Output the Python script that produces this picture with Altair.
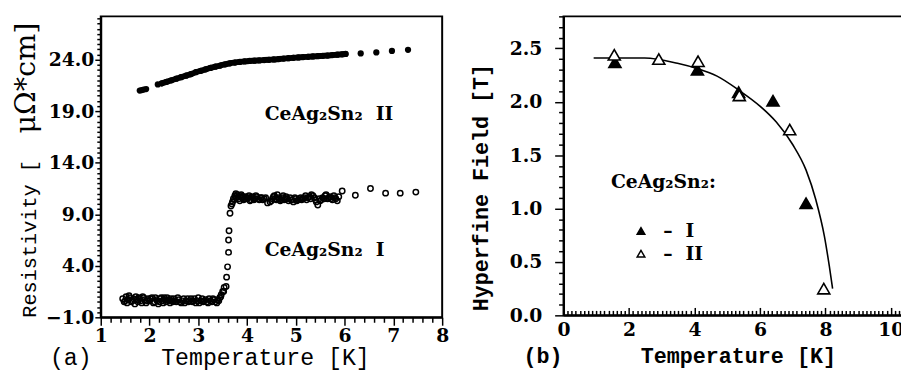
import altair as alt
import pandas as pd

NB = "\u00a0"

# ---------------- panel (a): resistivity vs temperature ----------------
# sample I (open circles)
t_sample_I = [1.45, 1.48, 1.5, 1.52, 1.54, 1.56, 1.58, 1.6, 1.63, 1.65, 1.67, 1.7, 1.72, 1.74,
              1.76, 1.78, 1.8, 1.82, 1.84, 1.86, 1.88, 1.9, 1.93, 1.95, 1.97, 2.0, 2.02, 2.05,
              2.08, 2.1, 2.12, 2.14, 2.16, 2.18, 2.2, 2.22, 2.24, 2.26, 2.28, 2.3, 2.32, 2.34,
              2.36, 2.38, 2.4, 2.42, 2.44, 2.46, 2.48, 2.5, 2.52, 2.55, 2.58, 2.6, 2.62, 2.65,
              2.68, 2.7, 2.72, 2.75, 2.78, 2.8, 2.82, 2.85, 2.88, 2.9, 2.92, 2.95, 2.98, 3.0,
              3.02, 3.05, 3.08, 3.1, 3.12, 3.15, 3.18, 3.2, 3.22, 3.25, 3.28, 3.3, 3.32, 3.35,
              3.38, 3.4, 3.42, 3.44, 3.46, 3.47, 3.5, 3.52, 3.53,
              3.57, 3.58, 3.6, 3.62, 3.62, 3.63, 3.65,
              3.67, 3.69, 3.7, 3.72, 3.74, 3.75, 3.77, 3.78, 3.8, 3.82, 3.83, 3.85, 3.86, 3.88,
              3.9, 3.92, 3.93, 3.95, 3.97, 4.0, 4.02, 4.04, 4.06, 4.08, 4.1, 4.12, 4.14, 4.16,
              4.18, 4.2, 4.22, 4.25, 4.28, 4.3, 4.32, 4.35, 4.38, 4.42, 4.47, 4.5, 4.52, 4.54,
              4.56, 4.58, 4.6, 4.62, 4.64, 4.66, 4.68, 4.7, 4.72, 4.74, 4.76, 4.78, 4.8, 4.82,
              4.85, 4.88, 4.9, 4.92, 4.95, 4.98, 5.0, 5.02, 5.05, 5.08, 5.1, 5.12, 5.15, 5.18,
              5.2, 5.22, 5.25, 5.28, 5.3, 5.32, 5.35, 5.38, 5.4, 5.42, 5.45, 5.48, 5.5, 5.52,
              5.55, 5.58, 5.6, 5.62, 5.65, 5.68, 5.7, 5.72, 5.75, 5.78, 5.8, 5.82, 5.85, 5.88,
              5.95, 6.22, 6.53, 6.84, 7.14, 7.46]
rho_sample_I = [0.8, 0.5, 0.6, 1.0, 0.4, 0.7, 1.1, 0.9, 0.5, 0.6, 0.8, 0.3, 1.0, 0.7,
                0.5, 0.9, 0.8, 0.6, 0.4, 1.0, 0.9, 0.7, 0.4, 0.6, 0.8, 0.6, 0.8, 0.9,
                0.4, 0.5, 0.9, 0.7, 0.6, 0.3, 0.5, 0.8, 0.9, 0.6, 0.4, 0.9, 0.7, 0.5,
                0.9, 0.7, 0.6, 0.4, 0.8, 0.6, 0.5, 0.8, 0.6, 0.5, 0.9, 0.7, 0.5, 0.4,
                0.6, 0.8, 0.4, 0.6, 0.8, 0.5, 0.6, 0.8, 0.5, 0.6, 0.8, 0.4, 0.6, 0.9,
                0.4, 0.6, 0.8, 0.5, 0.6, 0.7, 0.5, 0.4, 0.8, 0.6, 0.5, 0.8, 0.7, 0.5,
                0.4, 0.7, 0.6, 0.9, 1.0, 1.2, 1.5, 1.5, 1.9,
                2.0, 2.9, 3.9, 5.3, 6.5, 7.4, 9.1,
                9.8, 10.0, 10.2, 10.5, 10.4, 10.8, 11.0, 10.6, 10.9, 10.7, 10.5, 10.3, 10.8, 10.9,
                10.6, 10.7, 10.4, 10.5, 10.7, 10.5, 10.6, 10.8, 10.3, 10.4, 10.7, 10.6, 10.4, 10.5,
                10.8, 10.7, 10.5, 10.4, 10.6, 10.6, 10.4, 10.5, 10.6, 10.1, 10.2, 10.3, 10.5, 10.7,
                10.8, 10.5, 10.4, 10.9, 10.6, 10.5, 10.3, 10.4, 10.6, 10.8, 10.4, 10.5, 10.7, 10.5,
                10.3, 10.6, 10.4, 10.4, 10.2, 10.6, 10.5, 10.3, 10.4, 10.5, 10.6, 10.4, 10.5, 10.6,
                10.8, 10.4, 10.6, 10.7, 10.5, 10.9, 10.8, 10.6, 10.4, 10.2, 9.9, 10.5, 10.3, 10.4,
                10.6, 10.5, 10.8, 10.9, 10.5, 10.6, 10.7, 10.5, 10.4, 10.8, 10.6, 10.5, 10.3, 10.7,
                11.25, 10.85, 11.5, 11.05, 11.05, 11.15]

# sample II (filled dots): start cluster, dense band, sparse tail
t_II_start = [1.8, 1.84, 1.88, 1.93, 2.17]
rho_II_start = [21.0, 21.05, 21.1, 21.15, 21.6]
t_II_band = [2.25, 2.35, 2.45, 2.55, 2.65, 2.75, 2.85, 2.95, 3.05, 3.15, 3.25, 3.35, 3.45,
             3.55, 3.65, 3.75, 3.85, 3.95, 4.05, 4.15, 4.25, 4.35, 4.45, 4.55, 4.65, 4.75,
             4.85, 4.95, 5.05, 5.15, 5.25, 5.35, 5.45, 5.55, 5.65, 5.75, 5.85, 5.95, 6.02]
rho_II_band = [21.7, 21.85, 22.0, 22.15, 22.3, 22.45, 22.6, 22.78, 22.92, 23.06, 23.2, 23.32, 23.43,
               23.55, 23.65, 23.72, 23.78, 23.83, 23.87, 23.9, 23.93, 23.96, 23.99, 24.02, 24.06, 24.1,
               24.14, 24.18, 24.21, 24.25, 24.28, 24.31, 24.34, 24.37, 24.4, 24.44, 24.48, 24.52, 24.55]
t_II_tail = [6.33, 6.65, 6.97, 7.3]
rho_II_tail = [24.6, 24.7, 24.85, 24.95]

label_a_text = ["CeAg₂Sn₂" + NB + NB + "II", "CeAg₂Sn₂" + NB + NB + "I"]
label_a_t = [4.36, 4.36]
label_a_rho = [18.7, 5.5]

a_xticks = [round(1 + 0.2 * i, 4) for i in range(36)]
a_yticks = [round(-1 + 0.5 * i, 4) for i in range(59)]

# ---------------- panel (b): hyperfine field vs temperature ----------------
hf_t_I = [1.57, 4.09, 5.35, 6.40, 7.41]
hf_I = [2.37, 2.30, 2.09, 2.01, 1.05]
hf_t_II = [1.55, 2.91, 4.11, 5.37, 6.91, 7.95]
hf_II = [2.44, 2.40, 2.38, 2.06, 1.74, 0.25]

fit_t = [0.92, 2.48, 3.48, 4.09, 4.69, 5.35, 6.0, 6.5, 7.0, 7.41, 7.71, 7.97, 8.12, 8.22]
fit_b = [2.41, 2.41, 2.36, 2.31, 2.24, 2.11, 1.96, 1.81, 1.60, 1.36, 1.08, 0.74, 0.46, 0.25]

b_xticks = [round(0.125 * i, 4) for i in range(84)]
b_xlabels = [0, 2, 4, 6, 8, 10]
b_yticks = [round(0.1 * i, 4) for i in range(29)]

# ---------------- data frames ----------------
df_I = pd.DataFrame({"T": t_sample_I, "rho": rho_sample_I})
df_II = pd.DataFrame({"T": t_II_start + t_II_band + t_II_tail,
                      "rho": rho_II_start + rho_II_band + rho_II_tail})
df_II_band = pd.DataFrame({"T": t_II_band, "rho": rho_II_band})
df_lab = pd.DataFrame({"T": label_a_t, "rho": label_a_rho, "txt": label_a_text})
df_hf = pd.DataFrame({
    "T": hf_t_I + hf_t_II,
    "B": hf_I + hf_II,
    "series": ["I"] * len(hf_I) + ["II"] * len(hf_II),
})
df_fit = pd.DataFrame({"T": fit_t, "B": fit_b})

SERIF = "DejaVu Serif"
MONO = "Liberation Mono"

# ---------------- panel (a) ----------------
xs_a = alt.Scale(domain=[1, 8], nice=False, zero=False)
ys_a = alt.Scale(domain=[-1, 28.2], nice=False, zero=False)

maj_ax = "abs(datum.value - round(datum.value)) < 0.001"
maj_ay = "abs((datum.value + 1) / 5 - round((datum.value + 1) / 5)) < 0.001"

ax_a_x = alt.Axis(
    values=a_xticks,
    labelExpr=f"{maj_ax} ? format(datum.value, 'd') : ''",
    tickSize={"condition": {"test": maj_ax, "value": 8}, "value": 5},
    labelFontSize={"condition": {"test": maj_ax, "value": 19}, "value": 0},
    tickColor="black", tickWidth=1.5,
    domainColor="black", domainWidth=2,
    labelFont=SERIF, labelFontWeight="bold", labelColor="black",
    labelPadding=2, labelFlush=False, labelOverlap=False, grid=False,
    title="(a)" + NB * 5 + "Temperature [K]",
    titleFont=MONO, titleFontSize=23.5, titleFontWeight="normal", titleColor="black",
    titleX=-52, titleY=48, titleAlign="left", titleBaseline="alphabetic",
)
ax_a_y = alt.Axis(
    orient="left",
    values=a_yticks,
    labelExpr=f"{maj_ay} ? format(datum.value, '.1f') : ''",
    tickSize={"condition": {"test": maj_ay, "value": 6}, "value": 4},
    labelFontSize={"condition": {"test": maj_ay, "value": 19}, "value": 12},
    tickColor="black", tickWidth=1.5,
    domainColor="black", domainWidth=2,
    labelFont=SERIF, labelFontWeight="bold", labelColor="black",
    labelPadding=1, labelOverlap=False, labelFlush=False, grid=False,
    title="Resistivity [",
    titleFont=MONO, titleFontSize=20.5, titleFontWeight="normal", titleColor="black",
    titleX=-72, titleY=225, titleAlign="center", titleBaseline="middle", titleAngle=270,
)
ax_a_unit = alt.Axis(
    orient="left",
    domain=False, ticks=False, labels=False, grid=False,
    title="μΩ*cm]",
    titleFont=SERIF, titleFontSize=29, titleFontWeight="normal", titleColor="black",
    titleX=-76, titleY=62, titleAlign="center", titleBaseline="middle", titleAngle=270,
)

pts_I = alt.Chart(df_I).mark_point(
    shape="circle", size=30, strokeWidth=1.5, color="black", filled=False, opacity=1
).encode(
    x=alt.X("T:Q", scale=xs_a, axis=ax_a_x),
    y=alt.Y("rho:Q", scale=ys_a, axis=ax_a_y),
)
band_II = alt.Chart(df_II_band).mark_line(
    color="black", strokeWidth=6, strokeCap="round", interpolate="monotone"
).encode(
    x=alt.X("T:Q", scale=xs_a, axis=None),
    y=alt.Y("rho:Q", scale=ys_a, axis=None),
)
pts_II = alt.Chart(df_II).mark_circle(size=40, color="black", opacity=1).encode(
    x=alt.X("T:Q", scale=xs_a, axis=None),
    y=alt.Y("rho:Q", scale=ys_a, axis=ax_a_unit),
)
labs_a = alt.Chart(df_lab).mark_text(
    font=SERIF, fontWeight="bold", fontSize=19, color="black", align="left", baseline="middle"
).encode(
    x=alt.X("T:Q", scale=xs_a, axis=None),
    y=alt.Y("rho:Q", scale=ys_a, axis=None),
    text="txt:N",
)
panel_a = alt.layer(pts_I, band_II, pts_II, labs_a).resolve_axis(
    x="independent", y="independent"
).properties(width=346, height=305)

# ---------------- panel (b) ----------------
xs_b = alt.Scale(domain=[0, 10.4], nice=False, zero=False)
ys_b = alt.Scale(domain=[0, 2.8], nice=False, zero=False)

maj_by = "abs(datum.value * 2 - round(datum.value * 2)) < 0.001"
maj_bx = "abs(datum.value / 2 - round(datum.value / 2)) < 0.001"

ax_b_xlab = alt.Axis(
    values=b_xlabels, format="d", ticks=False, tickSize=0,
    domainColor="black", domainWidth=2,
    labelFont=SERIF, labelFontWeight="bold", labelFontSize=19, labelColor="black",
    labelPadding=5, labelFlush=False, labelOverlap=False, grid=False,
    title="(b)" + NB * 6 + "Temperature [K]",
    titleFont=MONO, titleFontSize=22, titleFontWeight="bold", titleColor="black",
    titleX=-41, titleY=48, titleAlign="left", titleBaseline="alphabetic",
)
ax_b_xtick = alt.Axis(
    orient="top", offset=-303, values=b_xticks, labels=False, domain=False, grid=False,
    tickSize={"condition": {"test": maj_bx, "value": 8}, "value": 5},
    tickColor="black", tickWidth=1.5, title=None,
)
ax_b_y = alt.Axis(
    orient="left",
    values=b_yticks,
    labelExpr=f"{maj_by} ? format(datum.value, '.1f') : ''",
    tickSize={"condition": {"test": maj_by, "value": 9}, "value": 5},
    labelFontSize={"condition": {"test": maj_by, "value": 19}, "value": 0},
    tickColor="black", tickWidth=1.5,
    domainColor="black", domainWidth=2,
    labelFont=SERIF, labelFontWeight="bold", labelColor="black",
    labelPadding=13, labelOverlap=False, labelFlush=False, grid=False,
    title="Hyperfine Field [T]",
    titleFont=MONO, titleFontSize=22, titleFontWeight="bold", titleColor="black",
    titleX=-84, titleY=173, titleAlign="center", titleBaseline="middle", titleAngle=270,
)

curve = alt.Chart(df_fit).mark_line(
    color="black", strokeWidth=1.6, interpolate="monotone"
).encode(
    x=alt.X("T:Q", scale=xs_b, axis=ax_b_xlab),
    y=alt.Y("B:Q", scale=ys_b, axis=ax_b_y),
)
tri = alt.Chart(df_hf).mark_point(
    shape="triangle-up", size=150, strokeWidth=1.6, stroke="black", filled=True, opacity=1
).encode(
    x=alt.X("T:Q", scale=xs_b, axis=ax_b_xtick),
    y=alt.Y("B:Q", scale=ys_b, axis=None),
    fill=alt.Fill(
        "series:N",
        scale=alt.Scale(domain=["I", "II"], range=["black", "white"]),
        legend=alt.Legend(
            title="CeAg₂Sn₂:", orient="none", legendX=517, legendY=159, direction="vertical",
            titleFont=SERIF, titleFontWeight="bold", titleFontSize=19, titleColor="black",
            titlePadding=30,
            labelFont=SERIF, labelFontWeight="bold", labelFontSize=19, labelColor="black",
            labelExpr="'–" + NB + NB + "' + datum.label",
            symbolType="triangle-up", symbolSize=60, symbolStrokeColor="black",
            symbolStrokeWidth=1.5, symbolOffset=21, labelOffset=13, rowPadding=3,
            padding=0, offset=0,
        ),
    ),
)
panel_b = alt.layer(curve, tri).resolve_axis(x="independent", y="independent").properties(
    width=345, height=303
)

chart = alt.hconcat(panel_a, panel_b, spacing=19).properties(
    padding={"left": 3, "top": 1, "right": -4, "bottom": 4},
    background="white",
).configure_view(stroke="black", strokeWidth=2)

chart.save("out.html", embed_options={"renderer": "svg", "actions": False})
